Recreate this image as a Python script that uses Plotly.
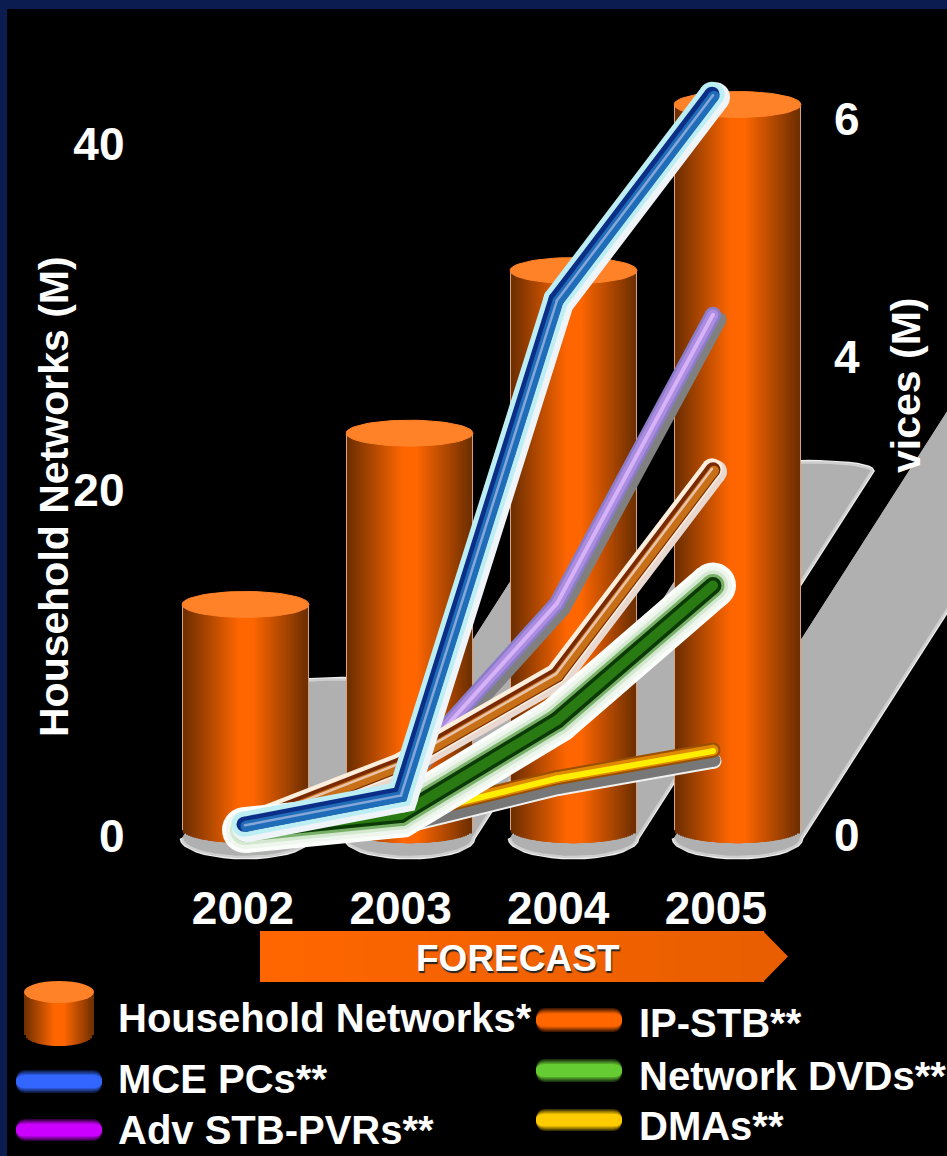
import math
import plotly.graph_objects as go

W_PX, H_PX = 947, 1156

# ---- data ----
YEARS = [2002, 2003, 2004, 2005]
YEAR_LABELS = ["2002", "2003", "2004", "2005"]
HOUSEHOLD_NETWORKS = [13.5, 23.4, 32.8, 42.4]
MCE_PCS = [0.09, 0.34, 4.49, 6.21]
ADV_STB_PVRS = [0.09, 0.50, 1.95, 4.37]
IP_STB = [0.09, 0.60, 1.35, 3.07]
NETWORK_DVDS = [0.05, 0.18, 0.97, 2.10]
DMAS = [0.05, 0.17, 0.49, 0.72]
LEFT_TICKS = [0, 20, 40]
RIGHT_TICKS = [0, 4, 6]

# ---- scales (pixels) ----
BAR_X0, BAR_DX, BAR_W = 245.5, 164.0, 127.0
LINE_X0, LINE_DX = 245.0, 156.0
LABEL_X0, LABEL_DX = 243.0, 157.6
LEFT_Y0, LEFT_DY = 838.0, 17.3
RIGHT_Y0, RIGHT_DY = 836.0, 119.3
FONT = "Liberation Sans"


def px_range(x0, dx):
    return [YEARS[0] - x0 / dx, YEARS[0] + (W_PX - x0) / dx]


def py_range(y0, dy):
    return [-(H_PX - y0) / dy, y0 / dy]


def lerp(c1, c2, t):
    return "rgb(%d,%d,%d)" % tuple(round(a + (b - a) * t) for a, b in zip(c1, c2))


def px(x):
    return x / W_PX


def py(y):
    return 1 - y / H_PX


fig = go.Figure()
W = BAR_W / BAR_DX
SHEAR = 0.64 * LEFT_DY / BAR_DX

# ---- cast shadows behind the cylinders ----
for yr, v in zip(YEARS, HOUSEHOLD_NETWORKS):
    top = v * 0.65 - 0.1
    xs, ys = [], []
    for a in range(180, 361, 10):
        t = math.radians(a)
        xs.append(yr + W / 2 * math.cos(t))
        ys.append(1.1 * math.sin(t))
    for a in range(0, 181, 10):
        t = math.radians(a)
        xs.append(yr + SHEAR * top + W / 2 * math.cos(t))
        ys.append(top + 0.5 * math.sin(t))
    for lw, col in ((5, "#f0f0f0"), (2.5, "#cfcfcf")):
        fig.add_trace(go.Scatter(x=xs, y=ys, xaxis="x", yaxis="y", mode="lines", fill="toself",
                                 fillcolor="#b0b0b0", line=dict(color=col, width=lw),
                                 hoverinfo="skip", showlegend=False))

# ---- cylinders: concentric bars give the shading and the round foot ----
N = 32
EDGE, MID = (112, 48, 0), (255, 102, 0)
for k in range(N):
    f = 1 - k / N
    base = 0.45 - 0.75 * math.sqrt(max(0, 1 - f * f))
    color = "#d8a080" if k == 0 else lerp(EDGE, MID, min(1, (k - 1) / (N * 0.85)))
    frac = f if k else 1
    if k == 1:
        frac = 1 - 2 / BAR_W
    fig.add_trace(go.Bar(x=YEARS, y=[v - base for v in HOUSEHOLD_NETWORKS], base=base,
                         width=W * frac, xaxis="x2", yaxis="y", marker=dict(color=color, line=dict(width=0)),
                         name="Household Networks", showlegend=False, hoverinfo="skip"))
for yr, v in zip(YEARS, HOUSEHOLD_NETWORKS):
    xs = [yr + W / 2 * math.cos(math.radians(a)) for a in range(0, 361, 6)]
    ys = [v + 0.75 * math.sin(math.radians(a)) for a in range(0, 361, 6)]
    fig.add_trace(go.Scatter(x=xs, y=ys, xaxis="x2", yaxis="y", mode="lines", fill="toself",
                             fillcolor="#ff8228", line=dict(color="#ff8228", width=1),
                             hoverinfo="skip", showlegend=False))


# ---- lines: stacks of strokes for halo, body and highlight ----
def add_line(vals, layers, name):
    for width, color, dx, dy in layers:
        fig.add_trace(go.Scatter(
            x=[y + dx / LINE_DX for y in YEARS],
            y=[v - dy / RIGHT_DY for v in vals],
            xaxis="x3", yaxis="y2", mode="lines+markers", name=name,
            line=dict(color=color, width=width),
            marker=dict(color=color, size=width, line=dict(width=0)),
            hoverinfo="skip", showlegend=False))


add_line(DMAS, [(15, "#f0f0f0", 1, 11), (13, "#777777", 1, 10),
                (15, "#9a5000", 0, 0), (11, "#e08a00", 0, 0), (6, "#ffee00", 0, 1)], "DMAs")
add_line(ADV_STB_PVRS, [(15, "#808080", 6, 5), (16, "#8a7cc8", 0, 0),
                        (11, "#ab8ce0", 0, 0), (4, "#d6b2f6", 0, 0)], "Adv STB-PVRs")
add_line(IP_STB, [(24, "#e8d8d0", 2, 2), (21, "#fbeedd", -1, -1), (15, "#7a2a00", 0, 0),
                  (10, "#c87018", 1, 1), (2.5, "#e8c4ac", -1, -1)], "IP-STB")
add_line(NETWORK_DVDS, [(46, "#fbfdfb", 0, 0), (38, "#eef6ee", 0, 0), (30, "#d4e8d0", 0, 0),
                        (23, "#78b068", 0, 0), (17, "#0c3a06", 0, 0), (10, "#2a7a14", 0, 0)],
         "Network DVDs")
add_line(MCE_PCS, [(30, "#eef4f8", 2, 2), (25, "#bdeef4", -1, -1),
                   (15, "#0b2f86", -1, -1), (11, "#1f6cb8", 1, 1), (2.5, "#86a6d8", 0, 0)], "MCE PCs")

# ---- background, forecast arrow, legend swatches ----
shapes = [dict(type="rect", xref="paper", yref="paper", x0=px(7), x1=1, y0=0, y1=py(9),
               fillcolor="#000000", line_width=0, layer="below")]

ARROW_L, ARROW_R, ARROW_TIP = 260, 763, 788
ARROW_T, ARROW_B = 931, 982
steps = 24
for i in range(steps):
    a = ARROW_L + (ARROW_R - ARROW_L) * i / steps
    b = ARROW_L + (ARROW_R - ARROW_L) * (i + 1) / steps + 1
    shapes.append(dict(type="rect", xref="paper", yref="paper", x0=px(a), x1=px(b),
                       y0=py(ARROW_B), y1=py(ARROW_T), line_width=0,
                       fillcolor=lerp((255, 102, 0), (232, 94, 0), i / steps)))
shapes.append(dict(type="path", xref="paper", yref="paper", line_width=0, fillcolor="#e85e00",
                   path=f"M {px(ARROW_R)},{py(ARROW_T)} L {px(ARROW_TIP)},{py((ARROW_T + ARROW_B) / 2)} "
                        f"L {px(ARROW_R)},{py(ARROW_B)} Z"))


def swatch(x0, x1, y0, y1, bright):
    levels = 7
    ym = (y0 + y1) / 2
    for k in range(levels):
        half = (y1 - y0) / 2 * (1 - k / levels * 0.75)
        a, b = ym - half, ym + half
        r = 9
        c = lerp((tuple(int(v * 0.25) for v in bright)), bright, min(1, k / (levels - 3)))
        L, R = px(x0), px(x1)
        path = (f"M {px(x0 + r)},{py(a)} L {px(x1 - r)},{py(a)} Q {R},{py(a)} {R},{py(ym)} "
                f"Q {R},{py(b)} {px(x1 - r)},{py(b)} L {px(x0 + r)},{py(b)} "
                f"Q {L},{py(b)} {L},{py(ym)} Q {L},{py(a)} {px(x0 + r)},{py(a)} Z")
        shapes.append(dict(type="path", xref="paper", yref="paper", path=path,
                           fillcolor=c, line_width=0))


swatch(16, 102, 1070, 1093, (51, 102, 255))
swatch(16, 102, 1119, 1141, (204, 0, 255))
swatch(536, 622, 1008, 1032, (255, 102, 0))
swatch(536, 622, 1059, 1082, (102, 204, 51))
swatch(536, 622, 1109, 1131, (255, 204, 0))

# legend cylinder
CX, CW, CTOP, CFOOT = 59, 35, 992, 1035
for k in range(18):
    f = 1 - k / 18
    w = CW * f
    foot = CFOOT + 11 * math.sqrt(max(0, 1 - f * f))
    shapes.append(dict(type="rect", xref="paper", yref="paper", x0=px(CX - w), x1=px(CX + w),
                       y0=py(foot), y1=py(CTOP), line_width=0,
                       fillcolor=lerp(EDGE, MID, min(1, k / 15))))
shapes.append(dict(type="circle", xref="paper", yref="paper", x0=px(CX - CW), x1=px(CX + CW),
                   y0=py(CTOP + 11), y1=py(CTOP - 11), fillcolor="#ff8228", line_width=0))


# ---- text ----
def label(text, x, y, size=40, anchor="left", **kw):
    return dict(text=text, x=px(x), y=py(y), xref="paper", yref="paper", xanchor=anchor,
                yanchor="middle", showarrow=False,
                font=dict(family=FONT, size=size, color="#ffffff", weight="bold",
                          **({"shadow": kw.pop("shadow")} if "shadow" in kw else {})), **kw)


annotations = [
    label("FORECAST", 518, 958, size=37, anchor="center", shadow="1px 2px 1px #222222"),
    label("Household Networks*", 116, 1018),
    label("MCE PCs**", 116, 1079),
    label("Adv STB-PVRs**", 116, 1130),
    label("IP-STB**", 637, 1023),
    label("Network DVDs**", 637, 1076),
    label("DMAs**", 637, 1126),
    label("Household Networks (M)", 54, 497, size=41, anchor="center", textangle=-90),
    label("vices (M)", 906, 386, size=41, anchor="center", textangle=-90),
]

tick_font = dict(family=FONT, size=46, color="#ffffff", weight="bold")
hidden = dict(visible=False, showgrid=False, zeroline=False, fixedrange=True)
label_ticks = [YEARS[0] + (LABEL_X0 + i * LABEL_DX - LINE_X0) / LINE_DX for i in range(len(YEARS))]

fig.update_layout(
    width=W_PX, height=H_PX,
    margin=dict(l=0, r=0, t=0, b=0),
    paper_bgcolor="#0a1c50", plot_bgcolor="rgba(0,0,0,0)",
    barmode="overlay", showlegend=False, shapes=shapes, annotations=annotations,
    xaxis=dict(range=px_range(BAR_X0, BAR_DX), domain=[0, 1], **hidden),
    xaxis2=dict(range=px_range(BAR_X0, BAR_DX), overlaying="x", **hidden),
    xaxis3=dict(range=px_range(LINE_X0, LINE_DX), overlaying="x", anchor="free", position=py(877),
                tickmode="array", tickvals=label_ticks, ticktext=YEAR_LABELS, tickfont=tick_font,
                ticks="", showline=False, showgrid=False, zeroline=False),
    yaxis=dict(range=py_range(LEFT_Y0, LEFT_DY), domain=[0, 1], anchor="free", position=px(124.5),
               tickmode="array", tickvals=[t + 2.5 / LEFT_DY for t in LEFT_TICKS],
               ticktext=[str(t) for t in LEFT_TICKS],
               tickfont=tick_font, ticks="", showline=False, showgrid=False, zeroline=False),
    yaxis2=dict(range=py_range(RIGHT_Y0, RIGHT_DY), overlaying="y", side="right", anchor="free",
                position=px(833), tickmode="array", tickvals=[t + 1.5 / RIGHT_DY for t in RIGHT_TICKS],
                ticktext=[str(t) for t in RIGHT_TICKS], tickfont=tick_font, ticks="",
                showline=False, showgrid=False, zeroline=False),
)

fig.write_html("out.html", config=dict(displayModeBar=False), post_script=(
    "document.body.style.margin='0';document.documentElement.style.overflow='hidden';"
    "document.body.style.background='#0a1c50';"))
